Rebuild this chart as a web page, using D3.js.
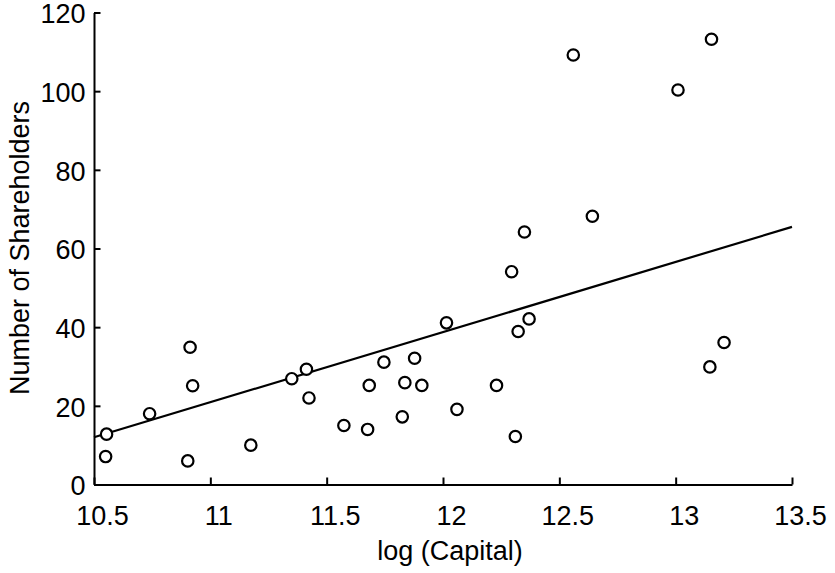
<!DOCTYPE html>
<html>
<head>
<meta charset="utf-8">
<script src="https://cdn.jsdelivr.net/npm/d3@7"></script>
<style>
  body { margin: 0; background: #fff; }
  text { font-family: "Liberation Sans", Arial, sans-serif; fill: #000; }
</style>
</head>
<body>
<div id="chart"></div>
<script>
// log(Capital) and number of shareholders
const logCapital = [10.554, 10.55, 10.739, 10.913, 10.924, 10.903, 11.174, 11.35, 11.413, 11.424,
    11.574, 11.676, 11.683, 11.746, 11.825, 11.836, 11.878, 11.909, 12.015, 12.06,
    12.23, 12.311, 12.323, 12.37, 13.147, 13.208, 12.56, 13.154, 13.01, 12.642,
    12.35, 12.295];
const shareholders = [12.8, 7.1, 18.0, 34.9, 25.1, 6.0, 10.0, 26.9, 29.3, 22.0,
    15.0, 14.0, 25.2, 31.1, 17.2, 25.9, 32.1, 25.2, 41.1, 19.1,
    25.2, 12.2, 38.9, 42.1, 29.9, 36.1, 109.2, 113.2, 100.3, 68.2,
    64.2, 54.1];

// fitted line end points
const fitX = [10.5, 13.5];
const fitY = [12.0, 65.5];

const xTicks = [10.5, 11, 11.5, 12, 12.5, 13, 13.5];
const yTicks = [0, 20, 40, 60, 80, 100, 120];

const margin = {top: 12.5, right: 43, bottom: 88.5, left: 94};
const width = 835 - margin.left - margin.right;
const height = 573 - margin.top - margin.bottom;
const fontSize = 27;

const svg = d3.select("#chart").append("svg")
    .attr("width", 835)
    .attr("height", 573);

const g = svg.append("g")
    .attr("transform", "translate(" + margin.left + "," + margin.top + ")");

const x = d3.scaleLinear().domain([10.5, 13.5]).range([0, width]);
const y = d3.scaleLinear().domain([0, 120]).range([height, 0]);

const xAxis = g.append("g")
    .attr("transform", "translate(0," + height + ")")
    .call(d3.axisBottom(x).tickValues(xTicks).tickFormat(d3.format("")).tickSize(-7).tickSizeOuter(0).tickPadding(21));

const yAxis = g.append("g")
    .call(d3.axisLeft(y).tickValues(yTicks).tickSize(-6.5).tickSizeOuter(0).tickPadding(8.5));

[xAxis, yAxis].forEach(a => {
    a.selectAll("path, line").attr("stroke", "#000").attr("stroke-width", 2);
    a.selectAll("text").attr("font-size", fontSize).attr("font-family", "Liberation Sans, Arial, sans-serif");
});
xAxis.selectAll("text").attr("dx", 8);
yAxis.selectAll("text").attr("dy", "0.38em");

// regression line
const pts = fitX.map((v, i) => [v, fitY[i]]);
g.append("path")
    .datum(pts)
    .attr("fill", "none")
    .attr("stroke", "#000")
    .attr("stroke-width", 2.2)
    .attr("d", d3.line().x(d => x(d[0])).y(d => y(d[1])));

// points
const data = logCapital.map((v, i) => ({x: v, y: shareholders[i]}));
g.selectAll(".dot")
    .data(data)
    .enter().append("circle")
    .attr("class", "dot")
    .attr("cx", d => x(d.x))
    .attr("cy", d => y(d.y))
    .attr("r", 5.7)
    .attr("fill", "#fff")
    .attr("stroke", "#000")
    .attr("stroke-width", 2.2);

// axis titles
svg.append("text")
    .attr("x", 450)
    .attr("y", 560)
    .attr("text-anchor", "middle")
    .attr("font-size", fontSize)
    .text("log (Capital)");

svg.append("text")
    .attr("transform", "translate(29,248) rotate(-90)")
    .attr("text-anchor", "middle")
    .attr("font-size", fontSize)
    .text("Number of Shareholders");
</script>
</body>
</html>
